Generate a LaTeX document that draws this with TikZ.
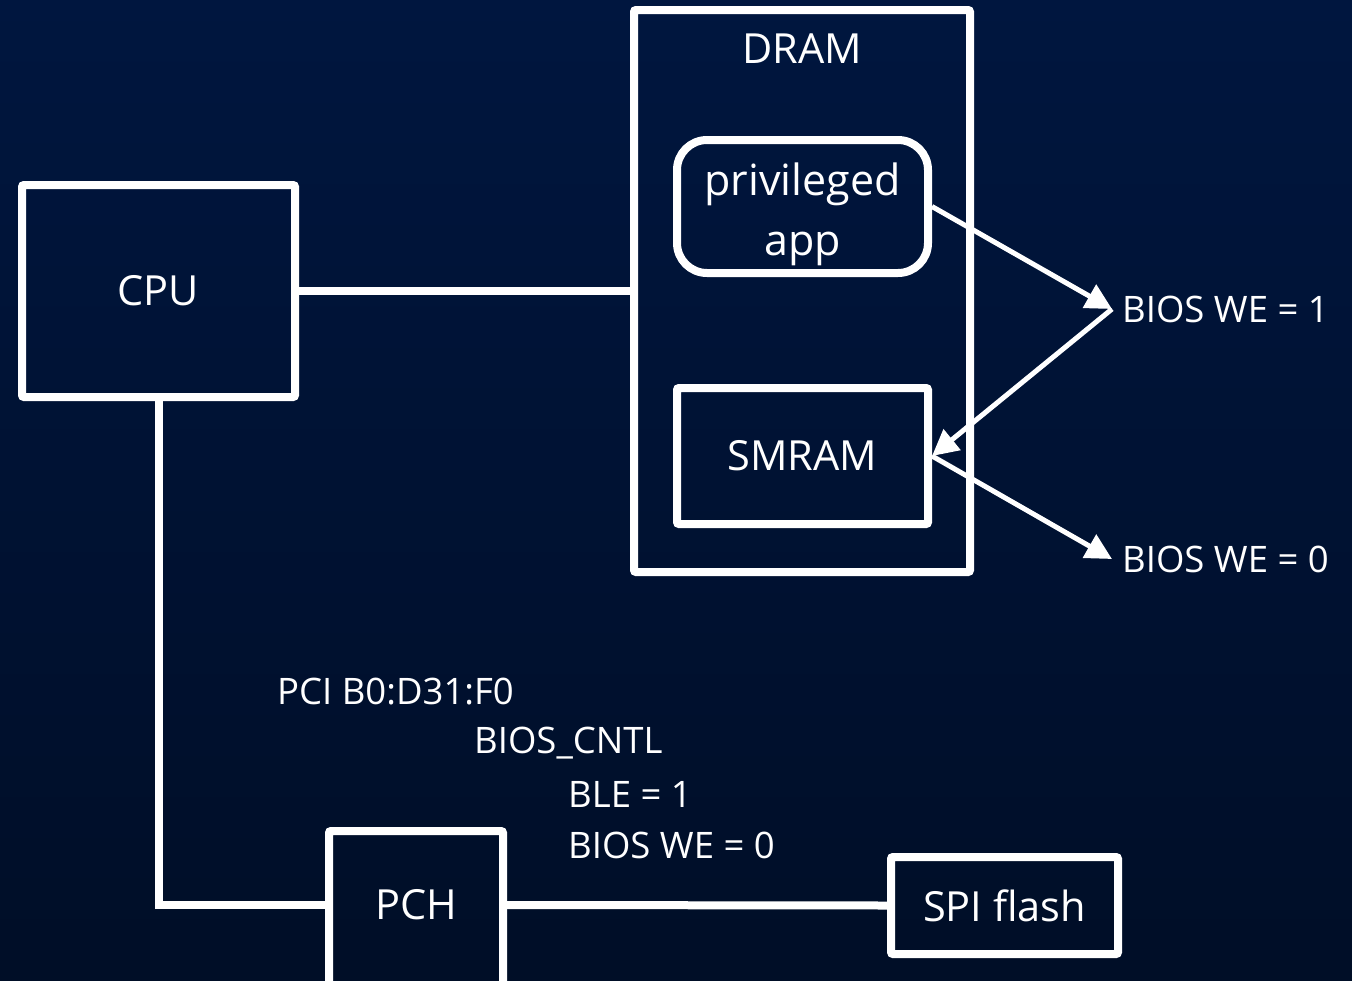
\documentclass[tikz,border=0pt]{standalone}
\usepackage{fontspec}
\setmainfont{Open Sans}
\usetikzlibrary{arrows.meta}
\definecolor{bgtop}{HTML}{00163F}
\definecolor{bgbot}{HTML}{000E27}
\tikzset{
  box/.style={draw=white, line width=8pt, rounded corners=2pt, text=white,
    font=\fontsize{41.5}{60}\selectfont, align=center, inner sep=0pt},
  boxtext/.style={text=white, font=\fontsize{41.5}{60}\selectfont, align=center, inner sep=0pt},
  wire/.style={draw=white, line width=8pt},
  arr/.style={draw=white, line width=5pt, -{Triangle[length=26pt,width=26pt]}},
  lbl/.style={text=white, font=\fontsize{36.5}{44}\selectfont, anchor=west, inner sep=0pt},
}
\begin{document}
\begin{tikzpicture}[x=1pt,y=-1pt]
\shade[top color=bgtop, bottom color=bgbot] (0,0) rectangle (1352,980);
\useasboundingbox (0,0) rectangle (1352,980);
\begin{scope}
\clip (0,0) rectangle (1352,980);
\node[box, minimum width=273pt, minimum height=212pt] (cpu) at (158.5,291) {CPU};
\node[box, minimum width=336pt, minimum height=562pt] (dram) at (802,291) {};
\node[boxtext] (dramlbl) at (802,49) {DRAM};
\node[box, rounded corners=30pt, minimum width=251pt, minimum height=133pt] (app) at (802.5,206.5) {};
\node[boxtext, font=\fontsize{43}{60}\selectfont] (applbl) at (802.5,214) {privileged\\app};
\node[box, minimum width=251pt, minimum height=136pt] (smram) at (802.5,456) {SMRAM};
\node[box, minimum width=174pt, minimum height=200pt] (pch) at (416,931) {};
\node[boxtext] (pchlbl) at (416,905) {PCH};
\node[box, minimum width=227pt, minimum height=97pt] (spi) at (1004.5,905.5) {SPI flash};
\node[lbl, inner xsep=10pt] (we1) at (1112,309) {BIOS WE = 1};
\node[lbl, inner xsep=10pt] (we0) at (1112,559) {BIOS WE = 0};
\node[lbl] (pci) at (277,692) {PCI B0:D31:F0};
\node[lbl] (cntl) at (474,743) {BIOS\_CNTL};
\node[lbl] (ble) at (568,794) {BLE = 1};
\node[lbl] (bwe) at (568,845) {BIOS WE = 0};
\draw[wire] (cpu.east) -- (dram.west);
\draw[wire] (cpu.south) |- (pchlbl -| pch.west);
\draw[wire] (pchlbl -| pch.east) -- (spi.west);
\draw[arr] (app.east) -- (we1.west);
\draw[arr] (we1.west) -- (smram.east);
\draw[arr] (smram.east) -- (we0.west);
\end{scope}
\end{tikzpicture}
\end{document}
